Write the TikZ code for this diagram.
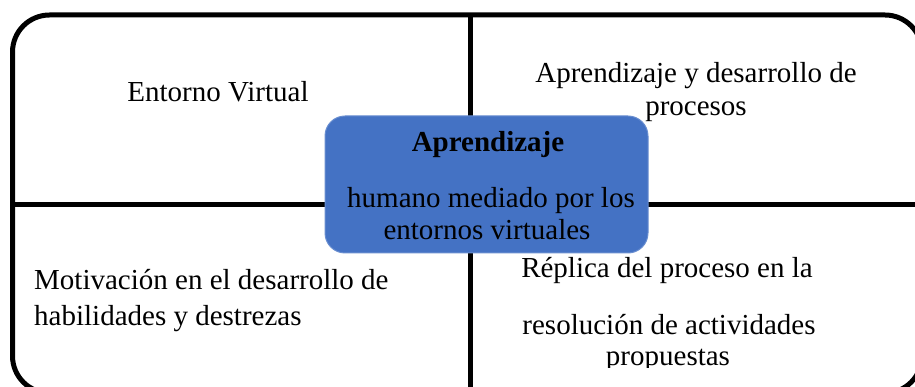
\documentclass[tikz,border=0pt]{standalone}
\usepackage{fontspec}
\setmainfont{Liberation Serif}
\definecolor{boxblue}{RGB}{68,114,196}
\begin{document}
\begin{tikzpicture}[x=1pt,y=-1pt,
  frame/.style={line width=5pt},
  lbl/.style={inner sep=0pt, anchor=base, font=\fontsize{29}{34}\selectfont},
  hubbox/.style={fill=boxblue, draw=boxblue!80!white, line width=1pt, rounded corners=20pt}]
\useasboundingbox (0,0) rectangle (915,387);
\begin{scope}
  \clip (0,0) rectangle (915,387);
  \draw[frame, rounded corners=37pt] (12.5,15) rectangle (922,393);
  \coordinate (vt) at (470,15);
  \coordinate (vb) at (470,393);
  \coordinate (hl) at (12.5,205);
  \coordinate (hr) at (922,205);
  \draw[frame] (vt) -- (vb);
  \draw[frame] (hl) -- (hr);
\end{scope}
\node[hubbox, minimum width=323pt, minimum height=137pt] (hub) at (486.5,184.5) {};
\node[lbl] (t1) at (218,102) {Entorno Virtual};
\node[lbl] (t2a) at (696,83) {Aprendizaje y desarrollo de};
\node[lbl] (t2b) at (696,116) {procesos};
\node[lbl, font=\fontsize{29}{34}\selectfont\bfseries] (h1) at (488,152) {Aprendizaje};
\node[lbl] (h2) at (491,208) {humano mediado por los};
\node[lbl] (h3) at (487,240) {entornos virtuales};
\node[lbl, anchor=base west] (t3a) at (34,289) {Motivación en el desarrollo de};
\node[lbl, anchor=base west] (t3b) at (34,325) {habilidades y destrezas};
\node[lbl] (t4a) at (667,277) {Réplica del proceso en la};
\node[lbl] (t4b) at (669,334) {resolución de actividades};
\begin{scope}
  \clip (0,0) rectangle (915,367);
  \node[lbl] (t4c) at (668,365) {propuestas};
\end{scope}
\end{tikzpicture}
\end{document}
